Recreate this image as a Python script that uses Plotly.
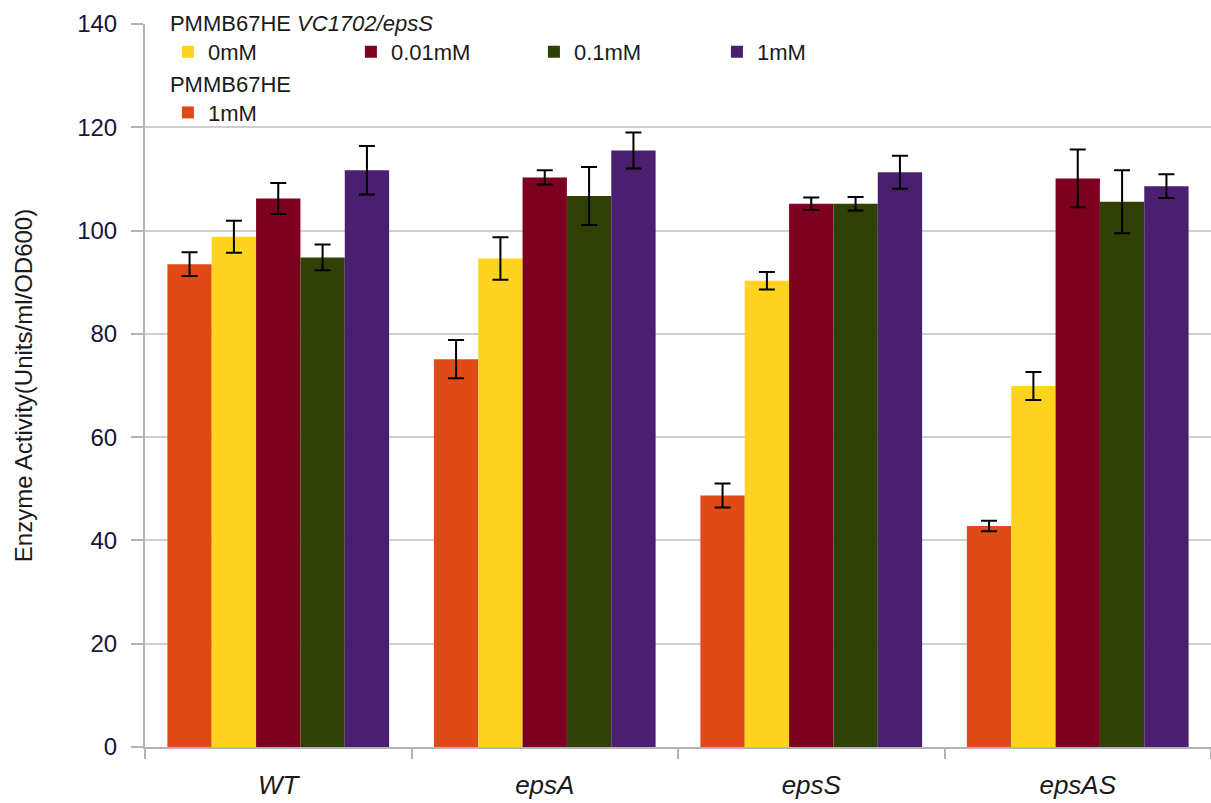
import plotly.graph_objects as go

# Strains on the x axis
strains = ["WT", "epsA", "epsS", "epsAS"]

# Enzyme activity (Units/ml/OD600) and standard deviations
empty_1mM = [93.5, 75.1, 48.7, 42.8]
empty_1mM_err = [2.3, 3.7, 2.3, 1.0]

eps_0mM = [98.8, 94.6, 90.3, 69.9]
eps_0mM_err = [3.1, 4.1, 1.7, 2.7]

eps_001mM = [106.2, 110.3, 105.2, 110.1]
eps_001mM_err = [3.0, 1.4, 1.2, 5.6]

eps_01mM = [94.8, 106.7, 105.2, 105.6]
eps_01mM_err = [2.5, 5.6, 1.3, 6.1]

eps_1mM = [111.7, 115.5, 111.3, 108.6]
eps_1mM_err = [4.7, 3.5, 3.2, 2.3]

series = [
    ("1mM", empty_1mM, empty_1mM_err, "#DF4A16", "legend2"),
    ("0mM", eps_0mM, eps_0mM_err, "#FFD320", "legend"),
    ("0.01mM", eps_001mM, eps_001mM_err, "#7E0021", "legend"),
    ("0.1mM", eps_01mM, eps_01mM_err, "#314004", "legend"),
    ("1mM", eps_1mM, eps_1mM_err, "#4B1F6F", "legend"),
]

fig = go.Figure()
for name, vals, errs, color, leg in series:
    fig.add_trace(go.Bar(
        x=strains, y=vals, name=name,
        marker=dict(color=color, line=dict(width=0)),
        error_y=dict(type="data", array=errs, color="black", thickness=2, width=8),
        legend=leg,
    ))

font_family = "Liberation Sans, Arial, sans-serif"
text_color = "#1a1a1a"

# white strip that hides the top grid line behind the legend header
fig.add_shape(type="rect", xref="paper", yref="paper",
              x0=0.0215, x1=0.50, y0=0.99, y1=1.01,
              fillcolor="white", line=dict(width=0), layer="above")

fig.update_layout(
    width=1211, height=803,
    margin=dict(l=145, r=0, t=24, b=56),
    paper_bgcolor="white", plot_bgcolor="white",
    barmode="group", bargap=0.168, bargroupgap=0,
    font=dict(family=font_family, color=text_color),
    showlegend=True,
    legend=dict(
        title=dict(text="PMMB67HE <i>VC1702/epsS</i>", side="top",
                   font=dict(size=22, color=text_color)),
        orientation="h", x=0.0215, y=1.030, xanchor="left", yanchor="top",
        entrywidth=138, entrywidthmode="pixels", tracegroupgap=0,
        bgcolor="rgba(0,0,0,0)", borderwidth=0, font=dict(size=22, color=text_color),
        traceorder="normal",
    ),
    legend2=dict(
        title=dict(text="PMMB67HE", side="top",
                   font=dict(size=22, color=text_color)),
        orientation="h", x=0.0215, y=0.946, xanchor="left", yanchor="top",
        bgcolor="rgba(0,0,0,0)", borderwidth=0, font=dict(size=22, color=text_color),
    ),
    xaxis=dict(
        type="category", tickson="boundaries", ticks="outside", ticklen=10,
        tickcolor="#b3b3b3", tickwidth=2,
        showline=True, linecolor="#b3b3b3", linewidth=2,
        showgrid=False, ticklabelstandoff=14,
        tickfont=dict(size=26, style="italic", color=text_color),
    ),
    yaxis=dict(
        range=[0, 140], tickvals=[0, 20, 40, 60, 80, 100, 120, 140],
        ticks="outside", ticklen=12, tickcolor="#b3b3b3", tickwidth=2,
        ticklabelstandoff=9,
        showline=True, linecolor="#b3b3b3", linewidth=2,
        showgrid=True, gridcolor="#cfcfcf", gridwidth=2,
        zeroline=False,
        tickfont=dict(size=24, color="#14143c"),
        title=dict(text="Enzyme Activity(Units/ml/OD600)",
                   font=dict(size=24, color=text_color), standoff=38),
    ),
)

fig.write_html("out.html")
